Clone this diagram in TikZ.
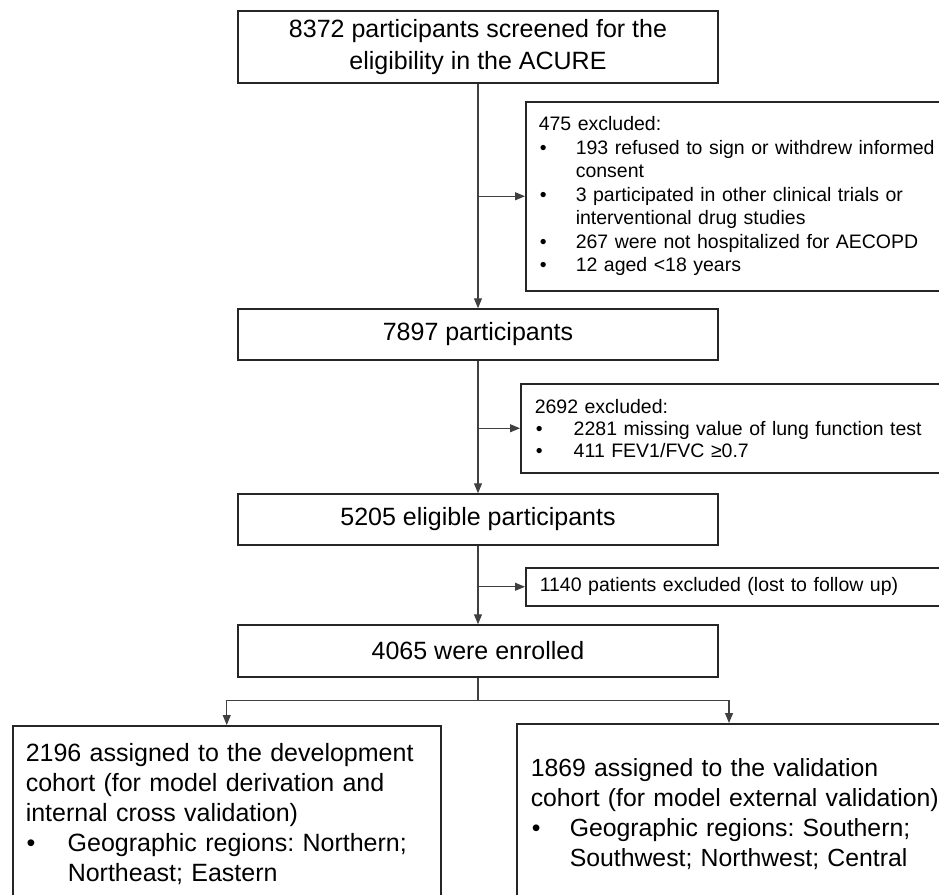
\documentclass[tikz,border=0pt]{standalone}
\usepackage{fontspec}
\setmainfont{Liberation Sans}
\usetikzlibrary{arrows.meta,calc}
\frenchspacing
\newcommand{\bitm}[1]{\par\hangindent=#1\hangafter=1\noindent\makebox[#1][l]{\hspace{1pt}\textbullet}}
\begin{document}
\begin{tikzpicture}[x=1pt,y=-1pt,
  mainbox/.style={draw=black!85, line width=1.5pt, minimum width=480pt, inner sep=0pt, align=center, font=\fontsize{25}{32}\selectfont},
  exclbox/.style={draw=black!85, line width=1.5pt, anchor=north west, inner xsep=13pt, inner ysep=0pt, text width=420pt, align=left, font=\fontsize{19.5}{23.5}\selectfont},
  cohort/.style={draw=black!85, line width=1.5pt, anchor=north west, inner ysep=0pt, align=left, font=\fontsize{25}{30}\selectfont},
  conn/.style={draw=black!75, line width=1.1pt},
  arr/.style={conn, -{Triangle[length=10pt,width=8pt]}}
]
\useasboundingbox (0,0) rectangle (939,894);
\clip (0,0) rectangle (939,894);

\node[mainbox, minimum height=72pt] (b1) at (478,47) {8372 participants screened for the\\eligibility in the ACURE};
\node[mainbox, minimum height=51pt] (b2) at (478,334.5) {7897 participants};
\node[mainbox, minimum height=51pt] (b3) at (478,519.5) {5205 eligible participants};
\node[mainbox, minimum height=52pt] (b4) at (478,651) {4065 were enrolled};

\node[exclbox, minimum height=189pt] (e1) at (525,101) {475 excluded:%
\bitm{37pt}193 refused to sign or withdrew informed\newline consent%
\bitm{37pt}3 participated in other clinical trials or\newline interventional drug studies%
\bitm{37pt}267 were not hospitalized for AECOPD%
\bitm{37pt}12 aged <18 years\par};

\node[exclbox, inner xsep=14pt, minimum height=89pt, font=\fontsize{19.5}{22}\selectfont] (e2) at (520,383) {2692 excluded:%
\bitm{39pt}2281 missing value of lung function test%
\bitm{39pt}411 FEV1/FVC ≥0.7\par};

\node[exclbox, inner xsep=14pt, minimum height=38pt] (e3) at (525,567) {1140 patients excluded (lost to follow up)};

\node[cohort, inner xsep=13pt, text width=402pt, minimum height=176pt] (c1) at (12,725) {\noindent 2196 assigned to the development\newline cohort (for model derivation and\newline internal cross validation)%
\bitm{42pt}Geographic regions: Northern;\newline Northeast; Eastern\par};

\node[cohort, inner xsep=14pt, text width=414pt, minimum height=180pt, font=\fontsize{24.8}{30}\selectfont] (c2) at (516,723) {\noindent 1869 assigned to the validation\newline cohort (for model external validation)%
\bitm{39pt}Geographic regions: Southern;\newline Southwest; Northwest; Central\par};

% main flow
\draw[arr] (b1.south) -- (b2.north);
\draw[arr] (b1.south |- e1.west) -- (e1.west);
\draw[arr] (b2.south) -- (b3.north);
\draw[arr] (b2.south |- e2.west) -- (e2.west);
\draw[arr] (b3.south) -- (b4.north);
\draw[arr] (b3.south |- e3.west) -- (e3.west);

% split
\draw[conn] (b4.south) -- ++(0,23) coordinate (sp);
\draw[arr] (sp) -| (c1.north);
\draw[arr] (sp) -| ($(c2.north west)+(213,0)$);
\end{tikzpicture}
\end{document}
